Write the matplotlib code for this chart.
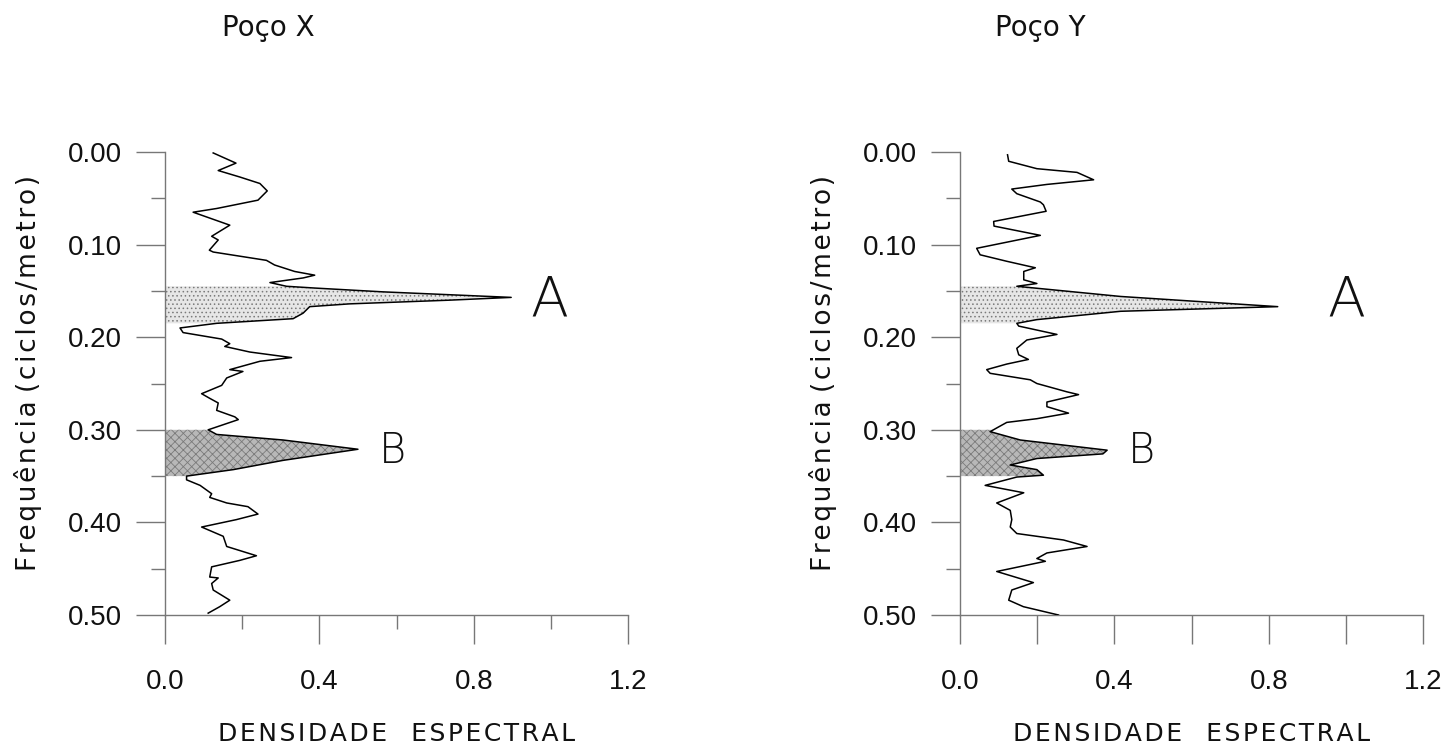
import matplotlib.pyplot as plt
import numpy as np

# Poço X: frequência (ciclos/metro) vs densidade espectral
freq_x = [0.001, 0.012, 0.020, 0.027, 0.034, 0.042, 0.052, 0.061, 0.065, 0.079,
          0.091, 0.095, 0.106, 0.108, 0.117, 0.122, 0.129, 0.133, 0.136, 0.141,
          0.145, 0.147, 0.151, 0.157, 0.160, 0.164, 0.167, 0.174, 0.180, 0.185,
          0.190, 0.195, 0.202, 0.207, 0.210, 0.216, 0.222, 0.226, 0.235, 0.237,
          0.244, 0.252, 0.261, 0.266, 0.271, 0.279, 0.286, 0.289, 0.300, 0.305,
          0.311, 0.321, 0.333, 0.343, 0.350, 0.354, 0.360, 0.369, 0.373, 0.379,
          0.383, 0.391, 0.397, 0.405, 0.415, 0.426, 0.436, 0.441, 0.448, 0.459,
          0.460, 0.466, 0.473, 0.484, 0.491, 0.498]
dens_x = [0.125, 0.184, 0.138, 0.194, 0.246, 0.265, 0.241, 0.134, 0.073, 0.168,
          0.121, 0.138, 0.115, 0.125, 0.263, 0.284, 0.336, 0.388, 0.358, 0.272,
          0.315, 0.392, 0.564, 0.897, 0.737, 0.478, 0.375, 0.358, 0.332, 0.134,
          0.039, 0.047, 0.147, 0.168, 0.155, 0.220, 0.328, 0.246, 0.168, 0.202,
          0.160, 0.147, 0.095, 0.116, 0.138, 0.134, 0.181, 0.190, 0.112, 0.134,
          0.306, 0.500, 0.306, 0.177, 0.056, 0.056, 0.091, 0.121, 0.116, 0.160,
          0.215, 0.241, 0.185, 0.095, 0.151, 0.160, 0.237, 0.194, 0.121, 0.116,
          0.138, 0.121, 0.125, 0.168, 0.142, 0.112]

# Poço Y
freq_y = [0.003, 0.010, 0.018, 0.022, 0.030, 0.035, 0.040, 0.045, 0.054, 0.057,
          0.064, 0.075, 0.080, 0.090, 0.104, 0.111, 0.118, 0.125, 0.129, 0.138,
          0.142, 0.145, 0.156, 0.167, 0.172, 0.181, 0.185, 0.188, 0.197, 0.203,
          0.212, 0.219, 0.224, 0.229, 0.235, 0.239, 0.246, 0.250, 0.259, 0.262,
          0.270, 0.275, 0.282, 0.288, 0.292, 0.298, 0.302, 0.311, 0.322, 0.326,
          0.331, 0.338, 0.343, 0.349, 0.351, 0.360, 0.368, 0.379, 0.387, 0.397,
          0.405, 0.412, 0.419, 0.426, 0.433, 0.439, 0.442, 0.453, 0.465, 0.473,
          0.484, 0.491, 0.500]
dens_y = [0.123, 0.126, 0.199, 0.303, 0.346, 0.225, 0.134, 0.147, 0.208, 0.216,
          0.223, 0.087, 0.088, 0.208, 0.043, 0.052, 0.121, 0.195, 0.165, 0.165,
          0.199, 0.147, 0.416, 0.823, 0.416, 0.199, 0.147, 0.152, 0.251, 0.173,
          0.147, 0.152, 0.177, 0.121, 0.069, 0.078, 0.182, 0.199, 0.277, 0.307,
          0.225, 0.225, 0.281, 0.199, 0.121, 0.095, 0.078, 0.156, 0.381, 0.370,
          0.199, 0.130, 0.199, 0.216, 0.147, 0.065, 0.165, 0.095, 0.130, 0.134,
          0.130, 0.147, 0.268, 0.329, 0.225, 0.199, 0.221, 0.095, 0.190, 0.134,
          0.126, 0.164, 0.255]

titles = ["Poço X", "Poço Y"]
band_a = (0.145, 0.185)
band_b = (0.300, 0.350)
x_ticks = [0.0, 0.4, 0.8, 1.2]
y_ticks = [0.0, 0.1, 0.2, 0.3, 0.4, 0.5]

HAIR = '\u200a'


def spaced(s, gap=HAIR):
    # slight letter spacing like the original lettering
    return gap.join(s)


def fill_band(ax, f, d, lo, hi, face, hatch):
    f = np.asarray(f)
    d = np.asarray(d)
    inside = (f > lo) & (f < hi)
    ff = np.concatenate([[lo], f[inside], [hi]])
    dd = np.concatenate([[np.interp(lo, f, d)], d[inside], [np.interp(hi, f, d)]])
    ax.fill_betweenx(ff, 0, dd, facecolor=face, edgecolor='#7a7a7a',
                     hatch=hatch, linewidth=0, zorder=1)


fig = plt.figure(figsize=(14.52, 7.47), dpi=100)
plt.rcParams['hatch.linewidth'] = 0.6

panels = [
    (0.1136, freq_x, dens_x, 0.995, 0.59, False, 0.1846),
    (0.6612, freq_y, dens_y, 1.0, 0.47, True, 0.7163),
]

for i, (left, f, d, ax_a, ax_b, even_ticks, title_x) in enumerate(panels):
    ax = fig.add_axes([left, 0.1767, 0.319, 0.6198])
    fill_band(ax, f, d, *band_a, '#e6e6e6', '....')
    fill_band(ax, f, d, *band_b, '#b8b8b8', 'xxxx')
    ax.plot(d, f, color='black', linewidth=1.1, zorder=3)

    ax.set_xlim(0, 1.2)
    ax.set_ylim(0.5, 0.0)
    ax.spines['top'].set_visible(False)
    ax.spines['right'].set_visible(False)
    for s in ('left', 'bottom'):
        ax.spines[s].set_color('#777777')
        ax.spines[s].set_linewidth(1.0)

    ax.set_xticks(x_ticks)
    ax.set_xticklabels(['0.0', '0.4', '0.8', '1.2'])
    ax.set_xticks([0.2, 0.6, 1.0], minor=True)
    ax.set_yticks(y_ticks)
    ax.set_yticklabels(['%.2f' % v for v in y_ticks])
    ax.set_yticks([0.05, 0.15, 0.25, 0.35, 0.45], minor=True)

    ax.tick_params(axis='both', which='major', direction='out', length=21,
                   width=1, color='#777777', labelsize=20, labelcolor='#111111')
    ax.tick_params(axis='x', which='major', pad=18)
    ax.tick_params(axis='y', which='major', pad=10)
    ax.tick_params(axis='both', which='minor', direction='out', length=10,
                   width=1, color='#777777')
    if even_ticks:
        ax.tick_params(axis='x', which='minor', length=21)

    for lab in ax.get_xticklabels() + ax.get_yticklabels():
        lab.set_family('Liberation Sans')

    ax.set_xlabel(spaced('DENSIDADE') + '   ' + spaced('ESPECTRAL'), fontsize=18,
                  family='DejaVu Sans', color='#111111', va='top')
    ax.xaxis.set_label_coords(0.5, -0.231)
    ax.set_ylabel(spaced('Frequência') + ' ' + spaced('(ciclos/metro)'), fontsize=19,
                  family='DejaVu Sans', color='#111111')
    ax.yaxis.set_label_coords(-0.265, 0.523)
    fig.text(title_x, 0.9625, titles[i], fontsize=20, family='DejaVu Sans',
             ha='center', va='center', color='#111111')

    ax.text(ax_a, 0.16, 'A', fontsize=40, family='DejaVu Sans', weight='light',
            va='center', ha='center', color='#111111')
    ax.text(ax_b, 0.322, 'B', fontsize=30, family='DejaVu Sans', weight='light',
            va='center', ha='center', color='#111111')

fig.savefig('out.png', dpi=100)
